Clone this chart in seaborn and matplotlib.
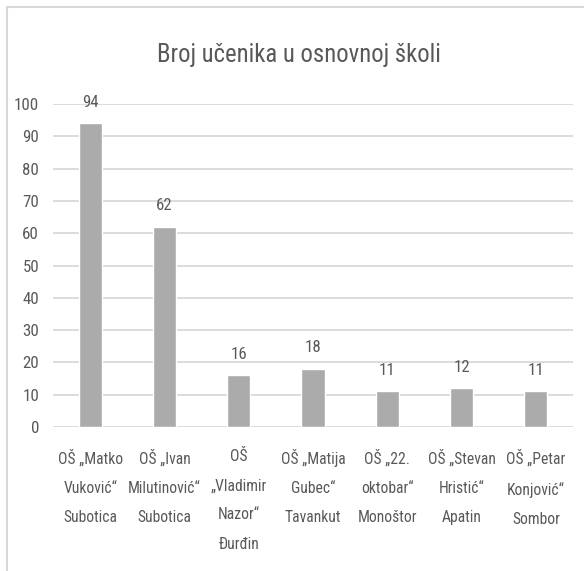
import warnings
import numpy as np
import pandas as pd
import matplotlib.pyplot as plt
import seaborn as sns
from matplotlib import font_manager
from matplotlib.font_manager import FontProperties
from matplotlib.textpath import TextToPath
from matplotlib.ft2font import FT2Font
from matplotlib.lines import Line2D

schools = ['OŠ „Matko\nVuković“\nSubotica',
           'OŠ „Ivan\nMilutinović“\nSubotica',
           'OŠ\n„Vladimir\nNazor“\nĐurđin',
           'OŠ „Matija\nGubec“\nTavankut',
           'OŠ „22.\noktobar“\nMonoštor',
           'OŠ „Stevan\nHristić“\nApatin',
           'OŠ „Petar\nKonjović“\nSombor']
students = [94, 62, 16, 18, 11, 12, 11]
y_ticks = [0, 10, 20, 30, 40, 50, 60, 70, 80, 90, 100]
title = 'Broj učenika u osnovnoj školi'

sns.set_style('white')
warnings.filterwarnings('ignore')

t2p = TextToPath()
needed = set(''.join(schools) + title + '0123456789H') - {'\n', ' '}


def text_px(path, s, size=13):
    w, h, d = t2p.get_text_width_height_descent(s, FontProperties(fname=path, size=size), ismath=False)
    return w * 100 / 72, h * 100 / 72, d * 100 / 72


def has_glyphs(path):
    try:
        font = FT2Font(path)
        return all(font.get_char_index(ord(c)) != 0 for c in needed)
    except Exception:
        return False


# the original is Calibri in a squeezed screenshot: among the plain sans families,
# pick the face whose width/cap-height ratio comes closest to it
families = ('dejavu sans', 'liberation sans', 'noto sans', 'roboto', 'open sans', 'lato', 'inter')
skip = ('mono', 'cjk', 'math', 'symbol', 'emoji', 'display', 'serif')
best, best_err = font_manager.findfont('DejaVu Sans'), None
for f in font_manager.fontManager.ttflist:
    name = f.name.lower()
    if not name.startswith(families) or any(k in name for k in skip):
        continue
    if f.style != 'normal' or f.weight not in (400, 'normal', 'regular'):
        continue
    if not has_glyphs(f.fname):
        continue
    try:
        w, _, _ = text_px(f.fname, 'Milutinović“')
        _, h, d = text_px(f.fname, 'H')
    except Exception:
        continue
    cap = h - d
    if w <= 0 or cap <= 0:
        continue
    err = abs(w / cap - 69 / 13)
    if best_err is None or err < best_err:
        best, best_err = f.fname, err


def fit(s, target_px):
    w, _, _ = text_px(best, s, 10)
    return 10 * target_px / w


def fp(size):
    return FontProperties(fname=best, size=size)


xlab_size = min(fit('Milutinović“', 73), 14)
tick_size = min(fit('100', 25), 14)
value_size = min(fit('94', 16.5), 13)
title_size = min(fit(title, 285), 21)
_, lp_h, _ = text_px(best, 'lp', xlab_size)

text_color = '#595959'
grid_color = '#D9D9D9'

df = pd.DataFrame({'school': schools, 'students': students})

fig = plt.figure(figsize=(5.84, 5.71), dpi=100)
ax = fig.add_axes([53/584, 1 - 427/571, 520/584, 323/571])

sns.barplot(data=df, x='school', y='students', color='#ABABAB',
            width=0.31, saturation=1, ax=ax, zorder=3)

ax.set_ylim(0, 100)
ax.set_yticks(y_ticks)
ax.set_yticklabels([str(t) for t in y_ticks], fontproperties=fp(tick_size))
ax.set_xticks(range(len(schools)))
ax.set_xticklabels(schools, fontproperties=fp(xlab_size), linespacing=1.16 * 28 / lp_h)
ax.yaxis.grid(True, color=grid_color, linewidth=1.3, zorder=0)
ax.set_axisbelow(True)
ax.set_xlabel('')
ax.set_ylabel('')
ax.tick_params(axis='both', length=0, labelcolor=text_color)
ax.tick_params(axis='y', pad=10)
ax.tick_params(axis='x', pad=16)
sns.despine(ax=ax, left=True, bottom=True)

for p, v in zip(ax.patches, students):
    ax.annotate(str(v), (p.get_x() + p.get_width() / 2, p.get_height()),
                xytext=(0, 12), textcoords='offset points',
                ha='center', va='baseline', fontproperties=fp(value_size), color=text_color)

fig.text(299/584, 1 - 62/571, title, ha='center', va='baseline',
         fontproperties=fp(title_size), color=text_color)

# chart frame, cut off at right and bottom like the screenshot
fig.add_artist(Line2D([7/584, 7/584], [0, 1 - 7/571], transform=fig.transFigure,
                      color=grid_color, linewidth=1.5))
fig.add_artist(Line2D([7/584, 1], [1 - 7/571, 1 - 7/571], transform=fig.transFigure,
                      color=grid_color, linewidth=1.5))

fig.savefig('out.png', dpi=100)
